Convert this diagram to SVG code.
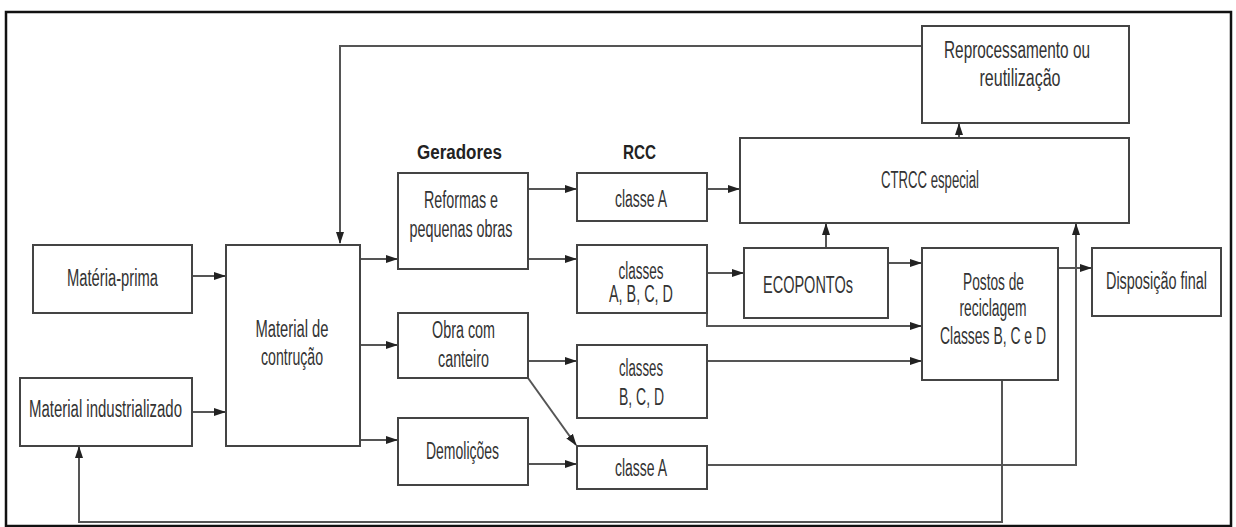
<svg xmlns="http://www.w3.org/2000/svg" width="1236" height="527" viewBox="0 0 1236 527">
<style>
.frame{fill:none;stroke:#111;stroke-width:2.5}
.box{fill:#fff;stroke:#444;stroke-width:2}
.t{font-family:"Liberation Sans Narrow","Liberation Sans",Arial,sans-serif;font-size:23px;fill:#333;text-anchor:middle}
.b{font-weight:bold;fill:#222;font-size:20px}
.c{fill:none;stroke:#555;stroke-width:2}
</style>
<defs>
<marker id="ah" markerUnits="userSpaceOnUse" markerWidth="12" markerHeight="10" refX="11" refY="5" orient="auto">
<path d="M0,1 L12,5 L0,9 Z" fill="#222"/>
</marker>
</defs>
<rect class="frame" x="6" y="12" width="1225" height="514"/>
<g id="connectors">
<path class="c" d="M922,46 H340 V243" marker-end="url(#ah)"/>
<path class="c" d="M192,276 H225" marker-end="url(#ah)"/>
<path class="c" d="M192,412 H225" marker-end="url(#ah)"/>
<path class="c" d="M360,259 H397" marker-end="url(#ah)"/>
<path class="c" d="M360,345 H397" marker-end="url(#ah)"/>
<path class="c" d="M360,440 H397" marker-end="url(#ah)"/>
<path class="c" d="M528,189 H576" marker-end="url(#ah)"/>
<path class="c" d="M528,259 H576" marker-end="url(#ah)"/>
<path class="c" d="M528,361 H576" marker-end="url(#ah)"/>
<path class="c" d="M528,378 L576,445" marker-end="url(#ah)"/>
<path class="c" d="M528,464 H576" marker-end="url(#ah)"/>
<path class="c" d="M707,189 H739" marker-end="url(#ah)"/>
<path class="c" d="M707,273 H743" marker-end="url(#ah)"/>
<path class="c" d="M707,313 V326 H921" marker-end="url(#ah)"/>
<path class="c" d="M707,361 H921" marker-end="url(#ah)"/>
<path class="c" d="M707,465 H1076 V224" marker-end="url(#ah)"/>
<path class="c" d="M826,248 V224" marker-end="url(#ah)"/>
<path class="c" d="M888,263 H921" marker-end="url(#ah)"/>
<path class="c" d="M959,138 V124" marker-end="url(#ah)"/>
<path class="c" d="M1058,268 H1091" marker-end="url(#ah)"/>
<path class="c" d="M1002,380 V522 H79 V447" marker-end="url(#ah)"/>
</g>
<g id="materia-prima">
<rect class="box" x="33" y="245" width="159" height="68"/>
<text class="t" x="112.5" y="286" textLength="91" lengthAdjust="spacingAndGlyphs">Matéria-prima</text>
</g>
<g id="material-industrializado">
<rect class="box" x="20" y="378" width="172" height="68"/>
<text class="t" x="105.5" y="417" textLength="153" lengthAdjust="spacingAndGlyphs">Material industrializado</text>
</g>
<g id="material-construcao">
<rect class="box" x="226" y="245" width="134" height="201"/>
<text class="t" x="292" y="337" textLength="73" lengthAdjust="spacingAndGlyphs">Material de</text>
<text class="t" x="292" y="365" textLength="62" lengthAdjust="spacingAndGlyphs">contrução</text>
</g>
<g id="label-geradores">
<text class="t b" x="459.5" y="159" textLength="85" lengthAdjust="spacingAndGlyphs">Geradores</text>
</g>
<g id="label-rcc">
<text class="t b" x="639.5" y="159" textLength="33" lengthAdjust="spacingAndGlyphs">RCC</text>
</g>
<g id="reformas">
<rect class="box" x="398" y="173" width="130" height="96"/>
<text class="t" x="461" y="208" textLength="74" lengthAdjust="spacingAndGlyphs">Reformas e</text>
<text class="t" x="461" y="237" textLength="103" lengthAdjust="spacingAndGlyphs">pequenas obras</text>
</g>
<g id="obra-canteiro">
<rect class="box" x="398" y="313" width="130" height="65"/>
<text class="t" x="463.5" y="338" textLength="63" lengthAdjust="spacingAndGlyphs">Obra com</text>
<text class="t" x="463.5" y="367" textLength="51" lengthAdjust="spacingAndGlyphs">canteiro</text>
</g>
<g id="demolicoes">
<rect class="box" x="398" y="418" width="130" height="67"/>
<text class="t" x="462.5" y="459" textLength="73" lengthAdjust="spacingAndGlyphs">Demolições</text>
</g>
<g id="classe-a-top">
<rect class="box" x="577" y="173" width="130" height="48"/>
<text class="t" x="641" y="207" textLength="52" lengthAdjust="spacingAndGlyphs">classe A</text>
</g>
<g id="classes-abcd">
<rect class="box" x="577" y="245" width="130" height="68"/>
<text class="t" x="641" y="279" textLength="45" lengthAdjust="spacingAndGlyphs">classes</text>
<text class="t" x="641" y="302" textLength="64" lengthAdjust="spacingAndGlyphs">A, B, C, D</text>
</g>
<g id="classes-bcd">
<rect class="box" x="577" y="345" width="130" height="73"/>
<text class="t" x="641" y="376" textLength="44" lengthAdjust="spacingAndGlyphs">classes</text>
<text class="t" x="641.5" y="405" textLength="45" lengthAdjust="spacingAndGlyphs">B, C, D</text>
</g>
<g id="classe-a-bottom">
<rect class="box" x="577" y="446" width="130" height="43"/>
<text class="t" x="641" y="476" textLength="52" lengthAdjust="spacingAndGlyphs">classe A</text>
</g>
<g id="ctrcc">
<rect class="box" x="740" y="138" width="389" height="85"/>
<text class="t" x="930" y="188" textLength="98" lengthAdjust="spacingAndGlyphs">CTRCC especial</text>
</g>
<g id="ecopontos">
<rect class="box" x="744" y="248" width="144" height="70"/>
<text class="t" x="808" y="293" textLength="90" lengthAdjust="spacingAndGlyphs">ECOPONTOs</text>
</g>
<g id="postos">
<rect class="box" x="922" y="248" width="136" height="132"/>
<text class="t" x="993.5" y="290" textLength="61" lengthAdjust="spacingAndGlyphs">Postos de</text>
<text class="t" x="993" y="316" textLength="67" lengthAdjust="spacingAndGlyphs">reciclagem</text>
<text class="t" x="993" y="344" textLength="106" lengthAdjust="spacingAndGlyphs">Classes B, C e D</text>
</g>
<g id="disposicao">
<rect class="box" x="1092" y="248" width="129" height="68"/>
<text class="t" x="1156.5" y="289" textLength="101" lengthAdjust="spacingAndGlyphs">Disposição final</text>
</g>
<g id="reprocessamento">
<rect class="box" x="922" y="26" width="207" height="97"/>
<text class="t" x="1017" y="58" textLength="146" lengthAdjust="spacingAndGlyphs">Reprocessamento ou</text>
<text class="t" x="1020" y="86" textLength="81" lengthAdjust="spacingAndGlyphs">reutilização</text>
</g>
</svg>
